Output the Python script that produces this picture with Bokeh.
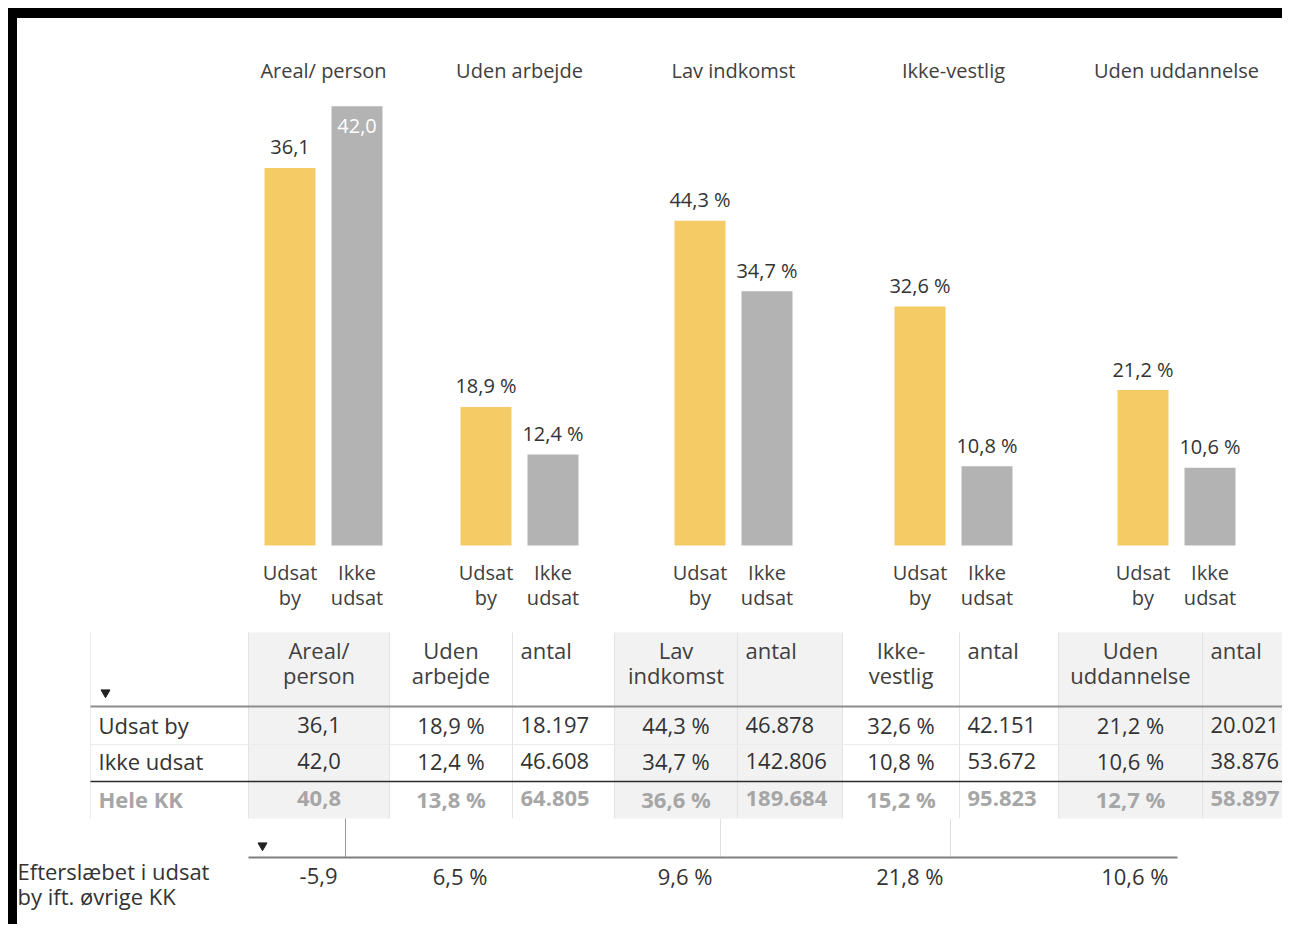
from bokeh.plotting import figure
from bokeh.models import Range1d, ColumnDataSource
from bokeh.embed import file_html
from bokeh.resources import INLINE
from bokeh.core.properties import value

# ---------------- data ----------------
categories = ["Areal/ person", "Uden arbejde", "Lav indkomst", "Ikke-vestlig", "Uden uddannelse"]
is_pct = [False, True, True, True, True]
series_names = ["Udsat by", "Ikke udsat"]
udsat_by = [36.1, 18.9, 44.3, 32.6, 21.2]
ikke_udsat = [42.0, 12.4, 34.7, 10.8, 10.6]
hele_kk = [40.8, 13.8, 36.6, 15.2, 12.7]
antal_udsat = [18197, 46878, 42151, 20021]
antal_ikke = [46608, 142806, 53672, 38876]
antal_hele = [64805, 189684, 95823, 58897]
efterslaeb = [-5.9, 6.5, 9.6, 21.8, 10.6]
table_headers = ["Areal/\nperson", "Uden\narbejde", "antal", "Lav\nindkomst", "antal",
                 "Ikke-\nvestlig", "antal", "Uden\nuddannelse", "antal"]
row_labels = ["Udsat by", "Ikke udsat", "Hele KK"]
footer_label = "Efterslæbet i udsat\nby ift. øvrige KK"

# ---------------- styles / layout ----------------
FONT = value("Open Sans")
YELLOW = "#F5CB66"
GREY = "#B3B3B3"
TXT = "#333333"
CELL_GREY = "#F2F2F2"


def fmt_dec(v, pct):
    s = f"{v:.1f}".replace(".", ",")
    return s + " %" if pct else s


def fmt_int(n):
    return f"{n:,}".replace(",", ".")


W, H = 1282, 924
p = figure(width=W, height=H, x_range=Range1d(0, W), y_range=Range1d(H, 0),
           output_backend="svg", toolbar_location=None,
           x_axis_location=None, y_axis_location=None, min_border=0,
           outline_line_color=None, background_fill_color="white",
           border_fill_color="white")
p.grid.visible = False

BASE = 545
PCT_SCALE = 7.33
AREAL_SCALE = 10.46
p.extra_y_ranges = {
    "pct": Range1d(-(H - BASE) / PCT_SCALE, BASE / PCT_SCALE),
    "areal": Range1d(-(H - BASE) / AREAL_SCALE, BASE / AREAL_SCALE),
}

# frame border of the dashboard
p.quad(left=[8], right=[W], top=[8], bottom=[17], color="black")
p.quad(left=[8], right=[16], top=[8], bottom=[H], color="black")

# ---------------- bar charts ----------------
group_centers = [323, 519, 733, 953, 1176]
OFF = 33.5
BW = 51
for i, cat in enumerate(categories):
    rng = "pct" if is_pct[i] else "areal"
    scale = PCT_SCALE if is_pct[i] else AREAL_SCALE
    xs = [group_centers[i] - OFF, group_centers[i] + OFF]
    vals = [udsat_by[i], ikke_udsat[i]]
    p.vbar(x=xs, width=BW, top=vals, bottom=0, y_range_name=rng,
           fill_color=[YELLOW, GREY], line_color=None)
    # value labels (inside the bar when there is no room above it)
    yoff, cols = [], []
    for v in vals:
        top_px = BASE - v * scale
        if top_px - 20 < 100:
            yoff.append(20)
            cols.append("white")
        else:
            yoff.append(-21)
            cols.append(TXT)
    src = ColumnDataSource(dict(x=xs, y=vals, t=[fmt_dec(v, is_pct[i]) for v in vals],
                                yo=yoff, c=cols))
    p.text(x="x", y="y", text="t", y_offset="yo", text_color="c", source=src,
           y_range_name=rng, text_align="center", text_baseline="middle",
           text_font=FONT, text_font_size=value("20px"))
    # title
    p.text(x=[group_centers[i]], y=[70], text=[cat], text_align="center",
           text_baseline="middle", text_font=FONT, text_font_size=value("20px"),
           text_color="#404040")
    # series labels under the bars
    for j, name in enumerate(series_names):
        parts = name.split(" ", 1)
        p.text(x=[xs[j], xs[j]], y=[572, 597], text=parts, text_align="center",
               text_baseline="middle", text_font=FONT, text_font_size=value("20px"),
               text_color="#404040")

# ---------------- table ----------------
col_edges = [90, 248, 389, 512, 614, 737, 842, 959, 1058, 1202, 1296]
grey_cols = [0, 3, 4, 7, 8]
HEAD_TOP, HEAD_BOT, ROW2, ROW3, TBL_BOT = 632, 706, 744, 781, 818
for c in grey_cols:
    p.quad(left=[col_edges[c + 1]], right=[col_edges[c + 2]], top=[HEAD_TOP], bottom=[TBL_BOT],
           color=CELL_GREY, line_color=None)
# faint vertical cell borders
p.segment(x0=col_edges[1:-1], x1=col_edges[1:-1], y0=[HEAD_TOP] * (len(col_edges) - 2),
          y1=[TBL_BOT] * (len(col_edges) - 2), line_color="#E3E3E3", line_width=1)
p.segment(x0=[col_edges[0]], x1=[col_edges[0]], y0=[HEAD_TOP], y1=[TBL_BOT],
          line_color="#EBEBEB", line_width=1)
# horizontal rules
p.segment(x0=[90], x1=[1296], y0=[ROW2], y1=[ROW2], line_color="#EBEBEB", line_width=1)
p.segment(x0=[90], x1=[1296], y0=[HEAD_BOT], y1=[HEAD_BOT], line_color="#8C8C8C", line_width=2)
p.segment(x0=[90], x1=[1296], y0=[ROW3], y1=[ROW3], line_color="#2B2B2B", line_width=1.5)
p.scatter(x=[105], y=[692], marker="inverted_triangle", size=9, color="#222222")

# header texts
for c, h in enumerate(table_headers):
    lines = h.split("\n")
    if h == "antal":
        x, al = col_edges[c + 1] + 8, "left"
    else:
        x, al = (col_edges[c + 1] + col_edges[c + 2]) / 2, "center"
    p.text(x=[x] * len(lines), y=[649, 674][:len(lines)], text=lines, text_align=al,
           text_baseline="middle", text_font=FONT, text_font_size=value("22px"),
           text_color="#404040")

row_pct = [udsat_by, ikke_udsat, hele_kk]
row_ant = [antal_udsat, antal_ikke, antal_hele]
row_y = [724, 760, 798]
for r, lab in enumerate(row_labels):
    bold = lab == "Hele KK"
    color = "#A6A6A6" if bold else TXT
    style = "bold" if bold else "normal"
    cells = [fmt_dec(row_pct[r][0], is_pct[0])]
    for k in range(4):
        cells.append(fmt_dec(row_pct[r][k + 1], is_pct[k + 1]))
        cells.append(fmt_int(row_ant[r][k]))
    xs, als = [], []
    for c, h in enumerate(table_headers):
        if h == "antal":
            xs.append(col_edges[c + 1] + 8); als.append("left")
        else:
            xs.append((col_edges[c + 1] + col_edges[c + 2]) / 2); als.append("center")
    src = ColumnDataSource(dict(x=xs, y=[row_y[r]] * len(xs), t=cells, a=als))
    p.text(x="x", y="y", text="t", text_align="a", source=src, text_baseline="middle",
           text_font=FONT, text_font_size=value("22px"), text_color=color,
           text_font_style=style)
    p.text(x=[98], y=[row_y[r]], text=[lab], text_align="left", text_baseline="middle",
           text_font=FONT, text_font_size=value("22px"), text_color=color,
           text_font_style=style)

# ---------------- lower table (efterslæb) ----------------
p.scatter(x=[262], y=[845], marker="inverted_triangle", size=9, color="#222222")
p.segment(x0=[345], x1=[345], y0=[818], y1=[857], line_color="#9A9A9A", line_width=1)
p.segment(x0=[720, 950], x1=[720, 950], y0=[818, 818], y1=[857, 857],
          line_color="#E0E0E0", line_width=1)
p.segment(x0=[248], x1=[1177], y0=[857], y1=[857], line_color="#7F7F7F", line_width=2)
eft_right = [337, 487, 712, 943, 1168]
p.text(x=eft_right, y=[875] * 5, text=[fmt_dec(v, is_pct[i]) for i, v in enumerate(efterslaeb)],
       text_align="right", text_baseline="middle", text_font=FONT,
       text_font_size=value("22px"), text_color=TXT)
fl = footer_label.split("\n")
p.text(x=[17, 17], y=[870, 895], text=fl, text_align="left", text_baseline="middle",
       text_font=FONT, text_font_size=value("22px"), text_color=TXT)

open("out.html", "w").write(file_html(p, INLINE))
